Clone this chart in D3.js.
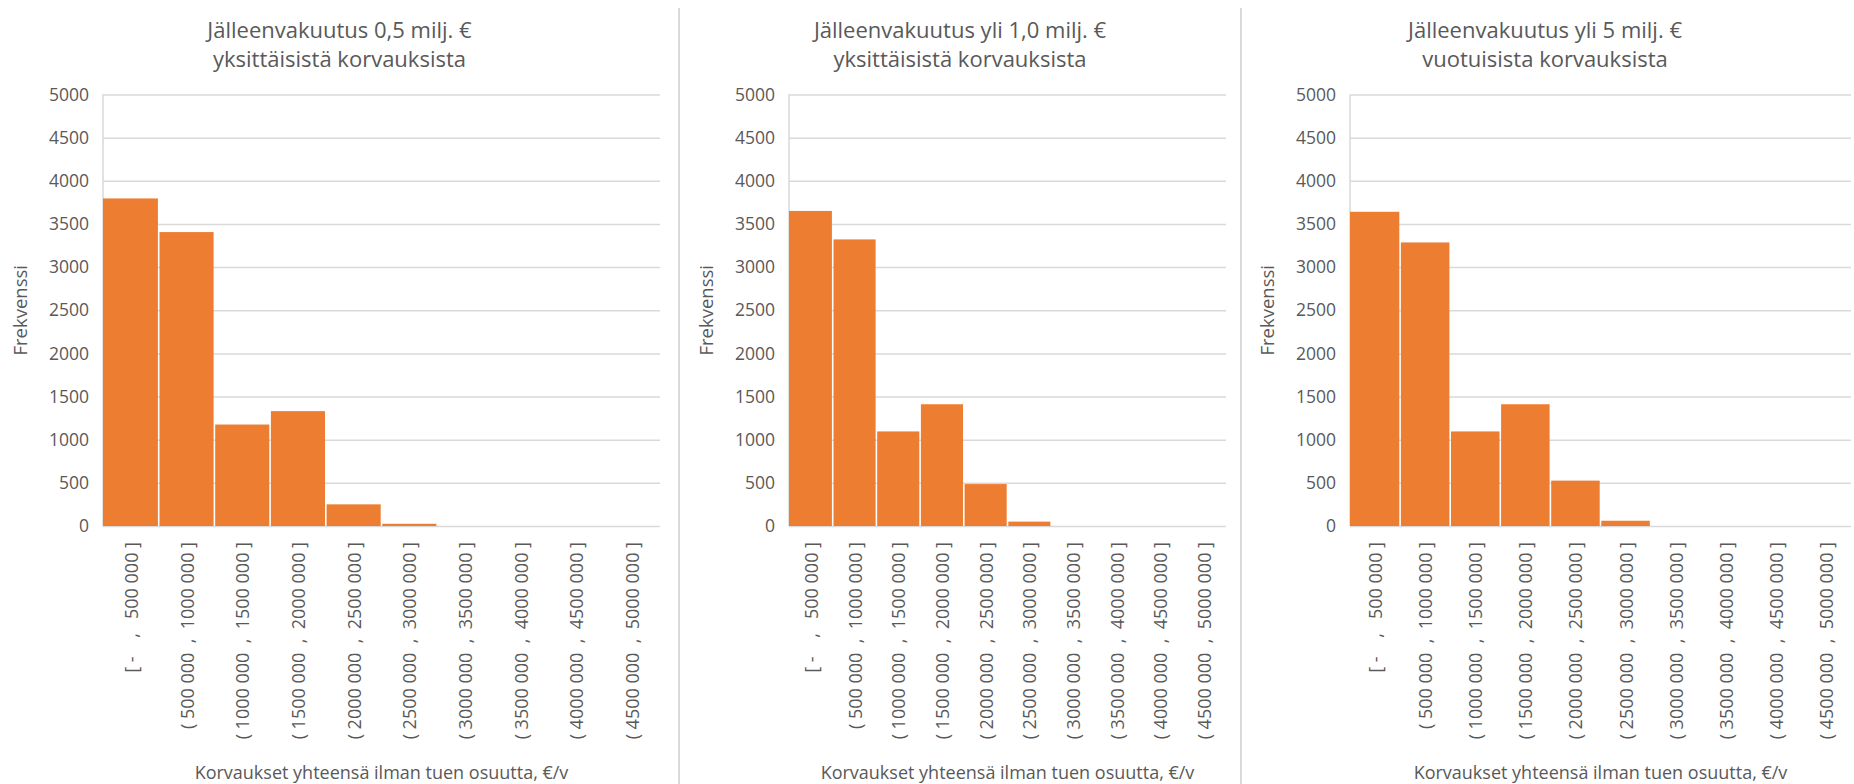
<!DOCTYPE html>
<html>
<head>
<meta charset="utf-8">
<script src="https://cdn.jsdelivr.net/npm/d3@7"></script>
<style>
  html, body { margin: 0; padding: 0; background: #ffffff; }
  svg { display: block; }
  text { font-family: "Open Sans", "Noto Sans", sans-serif; fill: #595959; }
</style>
</head>
<body>
<svg id="chart" width="1854" height="784"></svg>
<script>
// ---------- DATA ----------
const categories = [
  "[ -    ,   500 000 ]",
  "( 500 000  ,  1000 000 ]",
  "( 1000 000  ,  1500 000 ]",
  "( 1500 000  ,  2000 000 ]",
  "( 2000 000  ,  2500 000 ]",
  "( 2500 000  ,  3000 000 ]",
  "( 3000 000  ,  3500 000 ]",
  "( 3500 000  ,  4000 000 ]",
  "( 4000 000  ,  4500 000 ]",
  "( 4500 000  ,  5000 000 ]"
];
const values1 = [3790, 3400, 1170, 1325, 245, 20, 0, 0, 0, 0];
const values2 = [3645, 3315, 1090, 1405, 480, 45, 0, 0, 0, 0];
const values3 = [3635, 3280, 1090, 1405, 520, 55, 0, 0, 0, 0];
const title1 = ["Jälleenvakuutus 0,5 milj. €", "yksittäisistä korvauksista"];
const title2 = ["Jälleenvakuutus yli 1,0 milj. €", "yksittäisistä korvauksista"];
const title3 = ["Jälleenvakuutus yli 5 milj. €", "vuotuisista korvauksista"];
const yTicks = [0, 500, 1000, 1500, 2000, 2500, 3000, 3500, 4000, 4500, 5000];
const yAxisTitle = "Frekvenssi";
const xAxisTitle = "Korvaukset yhteensä ilman tuen osuutta, €/v";

// ---------- LAYOUT ----------
const BAR = "#ED7D31", GRID = "#D9D9D9";
const yTop = 94.5, yBottom = 526;
const gap = 1.6;
const panels = [
  { values: values1, title: title1, plotL: 103, plotR: 660, chartL: 0, chartR: 679 },
  { values: values2, title: title2, plotL: 789, plotR: 1226, chartL: 679, chartR: 1241 },
  { values: values3, title: title3, plotL: 1350, plotR: 1851, chartL: 1241, chartR: 1849 }
];

const svg = d3.select("#chart");

// panel separators
[679, 1241].forEach(xp => {
  svg.append("line").attr("x1", xp).attr("x2", xp).attr("y1", 8).attr("y2", 784)
    .attr("stroke", GRID).attr("stroke-width", 2);
});

panels.forEach(p => {
  const g = svg.append("g");
  const y = d3.scaleLinear().domain([0, 5000]).range([yBottom, yTop]);
  const x = d3.scaleBand().domain(categories).range([p.plotL, p.plotR]).padding(0);

  // y axis with gridlines
  const yAxis = d3.axisLeft(y).tickValues(yTicks).tickSize(-(p.plotR - p.plotL)).tickPadding(14)
    .tickFormat(d3.format("d"));
  const ya = g.append("g").attr("transform", `translate(${p.plotL},0)`).call(yAxis);
  ya.select(".domain").remove();
  ya.selectAll(".tick line").attr("stroke", GRID).attr("stroke-width", 1.5);
  ya.selectAll(".tick text").attr("font-size", 17.5).style("fill", "#595959")
    .attr("font-family", '"Open Sans", sans-serif');

  // left axis line
  g.append("line").attr("x1", p.plotL).attr("x2", p.plotL).attr("y1", y(5000)).attr("y2", y(0))
    .attr("stroke", GRID).attr("stroke-width", 1.5);

  // bars
  g.selectAll("rect.bar").data(p.values).enter().append("rect")
    .attr("class", "bar")
    .attr("x", (d, i) => x(categories[i]) + (i === 0 ? 0 : gap / 2))
    .attr("width", (d, i) => x.bandwidth() - (i === 0 ? gap / 2 : gap))
    .attr("y", d => y(d) - 0.5)
    .attr("height", d => d > 0 ? y(0) - y(d) + 0.5 : 0)
    .attr("fill", BAR);

  // x axis labels
  const xAxis = d3.axisBottom(x).tickSize(0).tickPadding(0);
  const xa = g.append("g").attr("transform", `translate(0,${yBottom})`).call(xAxis);
  xa.select(".domain").remove();
  xa.selectAll(".tick text")
    .attr("font-size", 18)
    .attr("font-family", '"Open Sans", sans-serif')
    .style("fill", "#595959")
    .style("white-space", "pre")
    .attr("text-anchor", "end")
    .attr("dominant-baseline", "central")
    .attr("dy", null)
    .attr("y", 0)
    .attr("transform", "translate(0,16) rotate(-90)");

  // y axis title
  g.append("text")
    .attr("transform", `translate(${p.plotL - 84},${(yTop + yBottom) / 2}) rotate(-90)`)
    .attr("text-anchor", "middle").attr("dominant-baseline", "central")
    .attr("font-size", 18.5).text(yAxisTitle);

  // x axis title
  g.append("text")
    .attr("x", (p.plotL + p.plotR) / 2).attr("y", 779)
    .attr("text-anchor", "middle").attr("font-size", 18).text(xAxisTitle);

  // chart title
  const cx = (p.chartL + p.chartR) / 2;
  p.title.forEach((t, i) => {
    g.append("text").attr("x", cx).attr("y", 37.5 + i * 29.5)
      .attr("text-anchor", "middle").attr("font-size", 22).text(t);
  });
});
</script>
</body>
</html>
